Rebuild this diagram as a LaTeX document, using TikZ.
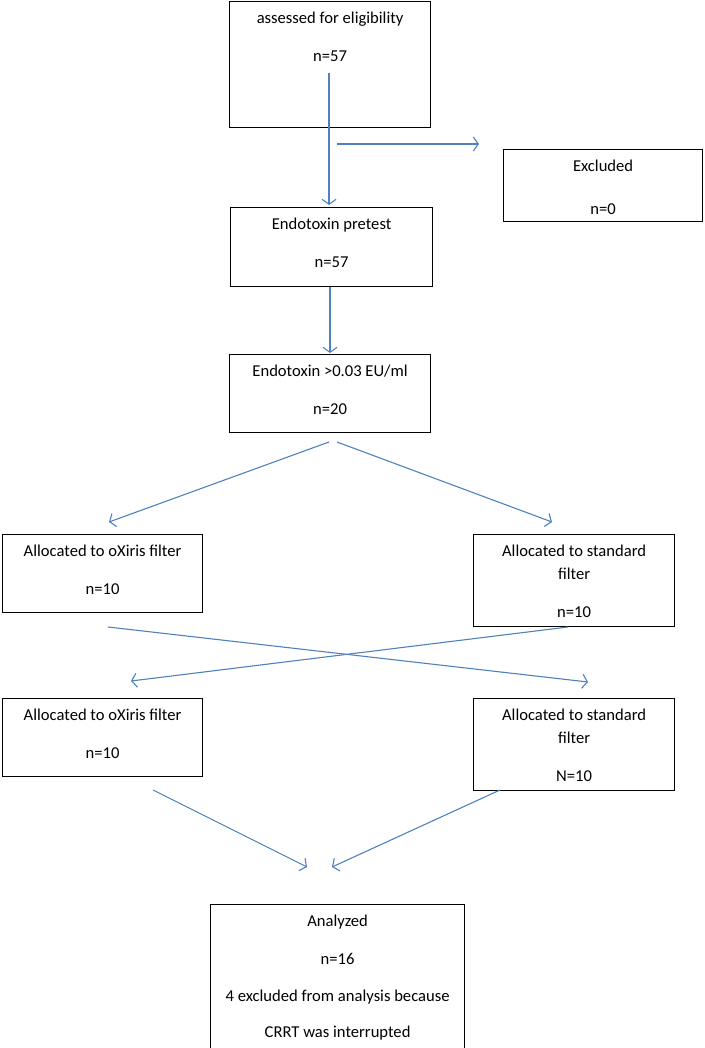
\documentclass[tikz,border=0pt]{standalone}
\usepackage{fontspec}
\setmainfont{Carlito}
\usepackage{tikz}
\usetikzlibrary{arrows.meta, positioning}

\definecolor{arrowblue}{RGB}{79,129,189}

\begin{document}
\begin{tikzpicture}[
  x=1pt, y=-1pt,
  box/.style={rectangle, draw, line width=1.2pt, inner sep=0pt, anchor=north west, align=center, font=\fontsize{16.6}{23}\selectfont},
  arr/.style={-{Straight Barb[length=5pt, width=14pt]}, line width=1.1pt, draw=arrowblue},
]
\useasboundingbox (0,0) rectangle (704,1048);
\clip (0,0) rectangle (704,1048);

\node[box, minimum width=201pt, text height=60pt, text depth=66pt] (elig) at (229,1) {assessed for eligibility\\[15pt]n=57};
\node[box, minimum width=199pt, text height=65pt, text depth=7pt] (excl) at (503,149) {Excluded\\[20pt]n=0};
\node[box, minimum width=202pt, text height=60pt, text depth=19pt] (pretest) at (230,207) {Endotoxin pretest\\[15pt]n=57};
\node[box, minimum width=201pt, text height=60pt, text depth=18pt] (endo) at (229,354) {Endotoxin >0.03 EU/ml\\[15pt]n=20};
\node[box, minimum width=200pt, text height=60pt, text depth=18pt] (oxA) at (2,534) {Allocated to oXiris filter\\[15pt]n=10};
\node[box, minimum width=201pt, text height=83pt, text depth=9pt] (stdA) at (473,534) {Allocated to standard\\filter\\[15pt]n=10};
\node[box, minimum width=200pt, text height=60pt, text depth=18pt] (oxB) at (2,698) {Allocated to oXiris filter\\[15pt]n=10};
\node[box, minimum width=201pt, text height=83pt, text depth=9pt] (stdB) at (473,698) {Allocated to standard\\filter\\[15pt]N=10};
\node[box, minimum width=254pt, text height=133pt, text depth=23pt] (anal) at (210,904) {Analyzed\\[15pt]n=16\\[14pt]4 excluded from analysis because\\[13pt]CRRT was interrupted};

% arrow ends
\coordinate (eligOut) at (329,73);
\coordinate (pretestIn) at (329,205);
\coordinate (exclOut) at (337,144);
\coordinate (exclIn) at (479,144);
\coordinate (pretestOut) at (330,287);
\coordinate (endoIn) at (330,353);
\coordinate (endoOutL) at (329,442);
\coordinate (endoOutR) at (337,442);
\coordinate (oxAIn) at (109,522);
\coordinate (stdAIn) at (552,522);
\coordinate (oxAOut) at (108,627);
\coordinate (stdAOut) at (568,627);
\coordinate (stdBIn) at (588,682);
\coordinate (oxBIn) at (131,681);
\coordinate (oxBOut) at (153,790);
\coordinate (stdBOut) at (500,790);
\coordinate (analInL) at (307,867);
\coordinate (analInR) at (332,867);

% Arrows
\draw[arr] (eligOut) -- (pretestIn);
\draw[arr] (exclOut) -- (exclIn);
\draw[arr] (pretestOut) -- (endoIn);
\draw[arr] (endoOutL) -- (oxAIn);
\draw[arr] (endoOutR) -- (stdAIn);
\draw[arr] (oxAOut) -- (stdBIn);
\draw[arr] (stdAOut) -- (oxBIn);
\draw[arr] (oxBOut) -- (analInL);
\draw[arr] (stdBOut) -- (analInR);
\end{tikzpicture}
\end{document}
